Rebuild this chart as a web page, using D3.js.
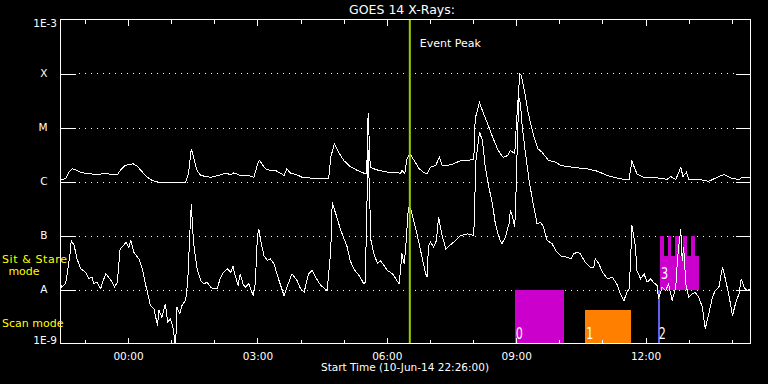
<!DOCTYPE html>
<html><head><meta charset="utf-8">
<script src="https://cdn.jsdelivr.net/npm/d3@7"></script>
<style>
html,body{margin:0;padding:0;background:#000;}
svg{display:block;background:#000;}
text{font-family:"DejaVu Sans",sans-serif;fill:#fff;}
</style></head><body>
<svg id="chart" width="768" height="384"></svg>
<script>
// ---------- DATA ----------
const chartTitle = "GOES 14 X-Rays:";
const startLabel = "Start Time (10-Jun-14 22:26:00)";
const startTime = Date.UTC(2014, 5, 10, 22, 26);   // 10-Jun-14 22:26 UT
const durationMinutes = 960;                        // 16 hours shown
const levelValues = [1e-8, 1e-7, 1e-6, 1e-5, 1e-4];
const levelLabels = ["A", "B", "C", "M", "X"];
const endValues = [1e-9, 1e-3];
const endLabels = ["1E-9", "1E-3"];
const eventPeakMinute = 486;
const eventLabel = "Event Peak";

// Long channel (1-8 A), minutes after start, flux W/m^2
const longMinutes = [0,7,12,16,23,30,42,51,63,70,79,83,90,101,107,114,121,128,137,174,178,182,185,190,195,209,223,230,237,241,250,262,269,275,277,285,292,299,306,311,315,320,329,336,343,352,362,373,376,381,387,394,403,413,422,426,428,431,436,443,455,468,473,475,479,482,486,492,499,505,510,515,522,527,531,538,547,557,575,577,580,583,587,594,602,609,616,622,626,632,634,639,641,646,650,657,664,670,679,689,696,705,719,733,747,761,779,791,795,802,812,830,844,849,856,863,866,871,874,890,902,909,923,932,944,948,960];
const longFlux = [1.09e-6,1.12e-6,1.49e-6,1.72e-6,1.6e-6,1.45e-6,1.39e-6,1.33e-6,1.43e-6,1.35e-6,1.33e-6,1.6e-6,1.98e-6,2.13e-6,1.9e-6,1.49e-6,1.2e-6,1.04e-6,9.7e-7,9.7e-7,1.39e-6,4.03e-6,2.82e-6,1.6e-6,1.29e-6,1.2e-6,1.33e-6,1.43e-6,1.33e-6,1.45e-6,1.29e-6,1.29e-6,1.2e-6,2.28e-6,2.45e-6,1.72e-6,1.6e-6,1.6e-6,1.43e-6,1.29e-6,1.72e-6,1.43e-6,1.33e-6,1.2e-6,1.17e-6,1.15e-6,1.12e-6,1.12e-6,2.82e-6,5.0e-6,3.49e-6,2.45e-6,1.9e-6,1.6e-6,1.43e-6,1.39e-6,1.82e-5,1.84e-6,1.72e-6,1.6e-6,1.49e-6,1.49e-6,1.39e-6,1.6e-6,1.43e-6,2.63e-6,3.26e-6,2.45e-6,1.72e-6,1.49e-6,1.39e-6,1.84e-6,1.98e-6,2.82e-6,1.98e-6,1.98e-6,2.13e-6,2.45e-6,2.52e-6,1.47e-5,2.06e-5,2.9e-5,2.06e-5,1.19e-5,6.25e-6,3.75e-6,2.78e-6,3.03e-6,3.75e-6,3.3e-6,1.0e-5,9.8e-5,9.18e-5,4.45e-5,2.06e-5,8.08e-6,4.08e-6,3.49e-6,2.45e-6,2.28e-6,1.98e-6,1.9e-6,1.79e-6,1.72e-6,1.55e-6,1.29e-6,1.12e-6,1.08e-6,2.38e-6,1.39e-6,1.17e-6,1.17e-6,1.1e-6,1.24e-6,1.08e-6,1.84e-6,1.24e-6,1.49e-6,1.08e-6,1.08e-6,1.01e-6,1.12e-6,1.35e-6,1.17e-6,1.08e-6,1.2e-6,1.17e-6];

// Short channel (0.5-4 A)
const shortMinutes = [0,2,7,9,13,15,19,23,28,35,39,44,46,51,56,58,63,67,72,75,79,83,88,91,95,98,102,109,114,118,121,125,130,135,137,141,146,149,153,157,160,162,166,169,174,177,180,182,185,190,195,199,204,209,213,218,222,227,232,237,240,243,247,250,254,257,262,268,271,274,276,279,283,288,292,297,304,311,315,322,329,334,339,345,350,355,362,371,376,378,383,390,399,403,408,417,422,424,428,432,436,441,445,450,455,462,468,471,473,475,478,480,484,487,496,501,508,510,512,515,519,523,526,531,536,547,557,566,575,578,583,587,591,596,601,605,610,614,619,624,626,629,632,634,636,638,640,642,647,652,656,663,668,672,677,684,689,696,705,710,714,719,723,730,737,742,744,749,754,761,768,775,779,784,788,791,793,795,800,802,807,812,816,821,825,830,832,837,842,846,851,856,858,860,863,865,867,870,874,879,883,888,893,897,902,907,911,916,921,925,930,935,939,944,947,951,955,960];
const shortFlux = [1.29e-8,1.1e-8,1.29e-8,1.82e-8,4.26e-8,8.08e-8,6.53e-8,3.7e-8,2.42e-8,2.09e-8,1.6e-8,1.69e-8,1.29e-8,1.36e-8,1.03e-8,1.29e-8,1.95e-8,1.69e-8,1.36e-8,1.1e-8,1.36e-8,5.67e-8,6.53e-8,7.52e-8,6.07e-8,8.08e-8,4.91e-8,3.7e-8,2.42e-8,1.27e-8,8.91e-9,5.06e-9,4.39e-9,2.15e-9,4.08e-9,3.07e-9,5.43e-9,2.48e-9,2.87e-9,1.87e-9,8.0e-10,4.7e-9,3.55e-9,5.06e-9,6.25e-9,1.36e-8,1.15e-7,3.75e-7,7.52e-8,2.42e-8,1.47e-8,1.27e-8,1.36e-8,1.1e-8,1.03e-8,1.03e-8,1.58e-8,2.09e-8,2.42e-8,2.09e-8,2.7e-8,1.82e-8,1.19e-8,1.95e-8,1.27e-8,1.1e-8,1.27e-8,7.74e-9,1.27e-8,1.0e-7,1.33e-7,7.42e-8,4.26e-8,3.44e-8,3.7e-8,2.99e-8,1.47e-8,7.74e-9,1.1e-8,1.95e-8,1.47e-8,1.03e-8,8.91e-9,1.95e-8,2.25e-8,1.69e-8,1.19e-8,9.58e-9,5.27e-8,4.08e-7,2.52e-7,1.24e-7,6.07e-8,3.44e-8,2.42e-8,1.69e-8,1.27e-8,1.36e-8,3.75e-6,8.08e-8,4.64e-8,3.03e-8,3.44e-8,2.78e-8,2.25e-8,1.95e-8,1.47e-8,1.27e-8,2.25e-8,4.64e-8,3.03e-8,5.27e-8,3.3e-7,3.16e-7,1.07e-7,5.27e-8,1.95e-8,1.74e-8,6.53e-8,7.52e-8,6.07e-8,8.08e-8,2.18e-7,1.0e-7,5.67e-8,7.52e-8,1.0e-7,1.07e-7,1.0e-7,2.45e-6,8.18e-6,5.74e-6,1.84e-6,7.84e-7,3.86e-7,1.65e-7,9.3e-8,7.02e-8,9.3e-8,1.65e-7,2.9e-7,2.18e-7,1.43e-7,7.84e-7,8.8e-6,3.44e-5,2.75e-5,1.17e-5,3.26e-6,1.04e-6,5.12e-7,1.65e-7,1.76e-7,1.43e-7,8.08e-8,7.02e-8,5.27e-8,4.17e-8,3.96e-8,3.7e-8,4.58e-8,4.91e-8,4.58e-8,3.2e-8,2.59e-8,2.59e-8,3.7e-8,2.99e-8,2.09e-8,1.58e-8,1.69e-8,1.19e-8,8.32e-9,6.25e-9,8.91e-9,1.03e-8,2.99e-8,1.53e-7,6.07e-8,2.25e-8,1.58e-8,1.95e-8,1.36e-8,1.58e-8,1.36e-8,1.19e-8,6.73e-9,1.1e-8,9.58e-9,1.27e-8,6.25e-9,1.1e-8,2.99e-8,6.07e-8,1.29e-7,3.44e-8,6.07e-8,1.27e-8,7.2e-9,8.32e-9,8.91e-9,7.2e-9,4.7e-9,1.87e-9,3.55e-9,7.2e-9,9.58e-9,1.1e-8,2.59e-8,1.58e-8,7.74e-9,3.3e-9,5.43e-9,8.32e-9,1.58e-8,1.1e-8,9.58e-9,1.03e-8];

// Observing mode intervals
const modeIds = ["0", "1", "2", "3"];
const modeStart = [632, 730, 831, 834];
const modeEnd = [700, 794, 834, 889];
const modeTop = [1e-8, 4.1e-9, 1e-8, 4.1e-8];
const modeBottom = [1e-9, 1e-9, 1e-9, 1e-8];
// bursts of mode 3 reaching higher
const burstStart = [834, 845, 855, 866, 877];
const burstEnd = [840, 850, 862, 872, 883];
const burstTop = [1e-7, 1e-7, 1e-7, 1e-7, 1e-7];
const burstBottom = [4.1e-8, 4.1e-8, 4.1e-8, 4.1e-8, 4.1e-8];

const modeTextUpper = ["Sit & Stare", "mode"];
const modeTextLower = "Scan mode";

// ---------- STYLE ----------
const modeColor = {"0": "#cc00cc", "1": "#ff8000", "2": "#5f5ff0", "3": "#cc00cc"};
const eventColor = "#9ccc00";
const L = 60.5, R = 750.5, T = 19.5, B = 343.5;

const svg = d3.select("#chart");
const toDate = m => new Date(startTime + m * 60000);

const x = d3.scaleUtc().domain([toDate(0), toDate(durationMinutes)]).range([L, R]);
const y = d3.scaleLog().domain([1e-9, 1e-3]).range([B, T]);

// clip
svg.append("defs").append("clipPath").attr("id", "plotclip")
  .append("rect").attr("x", L).attr("y", T).attr("width", R - L).attr("height", B - T);

// dotted grid
svg.append("g").selectAll("line").data(levelValues).join("line")
  .attr("x1", 79).attr("x2", 736)
  .attr("y1", d => Math.round(y(d)) + 0.5).attr("y2", d => Math.round(y(d)) + 0.5)
  .attr("stroke", "#fff").attr("stroke-width", 1).attr("stroke-dasharray", "1,5")
  .attr("shape-rendering", "crispEdges");

// mode boxes
const plot = svg.append("g").attr("clip-path", "url(#plotclip)");
const modes = modeIds.map((id, i) => ({id, s: modeStart[i], e: modeEnd[i], top: modeTop[i], bot: modeBottom[i]}));
plot.append("g").selectAll("rect").data(modes).join("rect")
  .attr("x", d => x(toDate(d.s))).attr("width", d => x(toDate(d.e)) - x(toDate(d.s)))
  .attr("y", d => y(d.top)).attr("height", d => y(d.bot) - y(d.top))
  .attr("fill", d => modeColor[d.id]).attr("shape-rendering", "crispEdges");
const bursts = burstStart.map((s, i) => ({s, e: burstEnd[i], top: burstTop[i], bot: burstBottom[i]}));
plot.append("g").selectAll("rect").data(bursts).join("rect")
  .attr("x", d => x(toDate(d.s))).attr("width", d => x(toDate(d.e)) - x(toDate(d.s)))
  .attr("y", d => y(d.top)).attr("height", d => y(d.bot) - y(d.top))
  .attr("fill", modeColor["3"]).attr("shape-rendering", "crispEdges");

// mode labels
svg.append("g").selectAll("text").data(modes).join("text")
  .attr("transform", d => `translate(${x(toDate(d.s)) + 1},${y(d.bot) - (d.id === "3" ? 11 : 5)}) scale(0.7,1)`)
  .attr("font-size", 16).text(d => d.id);

// curves
const line = d3.line().x(d => x(toDate(d.t))).y(d => y(d.f));
const longData = longMinutes.map((t, i) => ({t, f: longFlux[i]}));
const shortData = shortMinutes.map((t, i) => ({t, f: shortFlux[i]}));
plot.append("path").datum(longData).attr("d", line)
  .attr("fill", "none").attr("stroke", "#fff").attr("stroke-width", 1).attr("shape-rendering", "crispEdges");
plot.append("path").datum(shortData).attr("d", line)
  .attr("fill", "none").attr("stroke", "#fff").attr("stroke-width", 1).attr("shape-rendering", "crispEdges");

// event peak line
svg.append("line")
  .attr("x1", x(toDate(eventPeakMinute))).attr("x2", x(toDate(eventPeakMinute)))
  .attr("y1", T).attr("y2", B).attr("stroke", eventColor).attr("stroke-width", 2);
svg.append("text").attr("x", x(toDate(eventPeakMinute)) + 10).attr("y", 47)
  .attr("font-size", 11).text(eventLabel);

// axes
const hours = d3.utcHour.range(toDate(0), toDate(durationMinutes + 1));
const majors = hours.filter(d => d.getUTCHours() % 3 === 0);
const minors = hours.filter(d => d.getUTCHours() % 3 !== 0);
function styleAxis(g) {
  g.select(".domain").remove();
  g.selectAll("line").attr("stroke", "#fff").attr("shape-rendering", "crispEdges");
  g.selectAll("text").attr("fill", "#fff").attr("font-family", '"DejaVu Sans",sans-serif');
}
svg.append("g").attr("transform", `translate(0,${B})`)
  .call(d3.axisBottom(x).tickValues(majors).tickSize(-6).tickPadding(9).tickFormat(d3.utcFormat("%H:%M")))
  .attr("font-size", 10.5).call(styleAxis);
svg.append("g").attr("transform", `translate(0,${B})`)
  .call(d3.axisBottom(x).tickValues(minors).tickSize(-4).tickFormat("")).call(styleAxis);
svg.append("g").attr("transform", `translate(0,${T})`)
  .call(d3.axisTop(x).tickValues(majors).tickSize(-6).tickFormat("")).call(styleAxis);
svg.append("g").attr("transform", `translate(0,${T})`)
  .call(d3.axisTop(x).tickValues(minors).tickSize(-4).tickFormat("")).call(styleAxis);
svg.append("g").attr("transform", `translate(${L},0)`)
  .call(d3.axisLeft(y).tickValues(levelValues).tickSize(-15).tickPadding(13).tickFormat((d, i) => levelLabels[i]))
  .attr("font-size", 10.5).call(styleAxis);
svg.append("g").attr("transform", `translate(${R},0)`)
  .call(d3.axisRight(y).tickValues(levelValues).tickSize(-15).tickFormat("")).call(styleAxis);

// end labels
svg.append("g").selectAll("text").data(endValues).join("text")
  .attr("x", 57).attr("text-anchor", "end").attr("font-size", 10.5)
  .attr("y", (d, i) => i === 0 ? y(d) : y(d) + 7.5)
  .text((d, i) => endLabels[i]);

// frame
svg.append("rect").attr("x", L).attr("y", T).attr("width", R - L).attr("height", B - T)
  .attr("fill", "none").attr("stroke", "#fff").attr("shape-rendering", "crispEdges");

// titles
svg.append("text").attr("x", 402).attr("y", 13.5).attr("text-anchor", "middle")
  .attr("font-size", 12.5).text(chartTitle);
svg.append("text").attr("x", 405).attr("y", 371).attr("text-anchor", "middle")
  .attr("font-size", 10.5).text(startLabel);

// mode side labels
svg.append("text").attr("x", 2).attr("y", 263).attr("font-size", 11).attr("letter-spacing", 0.6).style("fill", "#ffff00").text(modeTextUpper[0]);
svg.append("text").attr("x", 24).attr("y", 275).attr("text-anchor", "middle").attr("font-size", 11).style("fill", "#ffff00").text(modeTextUpper[1]);
svg.append("text").attr("x", 2).attr("y", 327).attr("font-size", 11).style("fill", "#ffff00").text(modeTextLower);
</script>
</body></html>
